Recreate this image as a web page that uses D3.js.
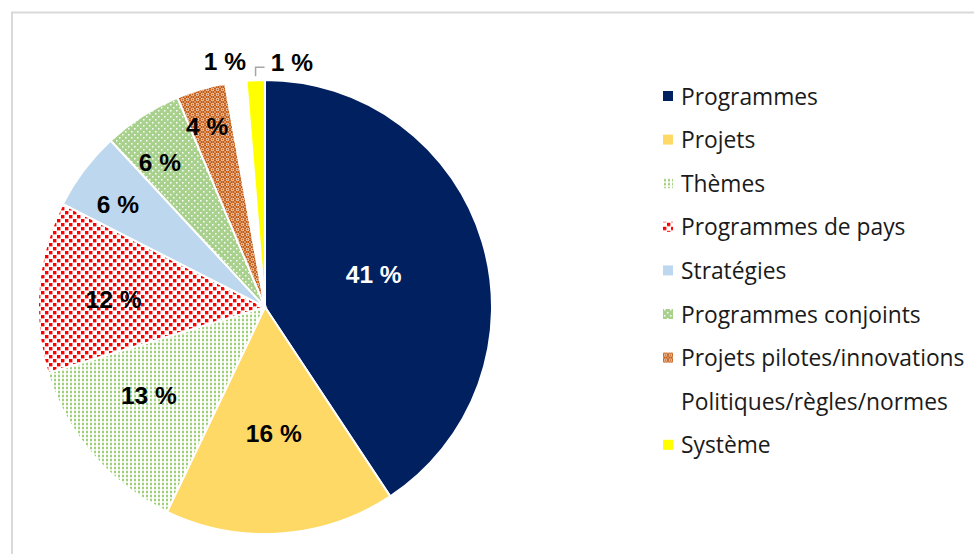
<!DOCTYPE html>
<html>
<head>
<meta charset="utf-8">
<script src="https://cdn.jsdelivr.net/npm/d3@7"></script>
<style>
  body { margin: 0; background: #fff; }
  svg { display: block; }
</style>
</head>
<body>
<script>
'use strict';

// chart data (clockwise from 12 o'clock)
const categories = ["Programmes", "Projets", "Thèmes", "Programmes de pays", "Stratégies",
  "Programmes conjoints", "Projets pilotes/innovations", "Politiques/règles/normes", "Système"];
const shares = [40.7, 16.4, 13.2, 12.2, 5.6, 5.6, 3.5, 1.5, 1.3];
const shareLabels = ["41 %", "16 %", "13 %", "12 %", "6 %", "6 %", "4 %", "1 %", "1 %"];

// styling for each slice (solid colour or pattern id)
const fills = ["#002060", "#FFD966", "url(#pThemes)", "url(#pPays)", "#BDD7EE",
  "url(#pConj)", "url(#pPilot)", "#ffffff", "#FFFF00"];
const labelColors = ["#fff", "#000", "#000", "#000", "#000", "#000", "#000", "#000", "#000"];
// label distance from centre (fraction of radius) and small nudges
const labelRadius = [0.5, 0.56, 0.64, 0.67, 0.79, 0.79, 0.84, 1.1, 1.09];
const labelNudge = [[0, 0], [0, 0], [-6, -6], [0, 6], [-4, 6], [-8, 6], [-4, 2], [-8, 2], [37, 3]];

const width = 974, height = 554;
const cx = 265, cy = 307, R = 227;

const svg = d3.select('body')
  .append('svg')
  .attr('width', width)
  .attr('height', height);

// chart frame
svg.append('rect')
  .attr('x', 12)
  .attr('y', 12.5)
  .attr('width', 1000)
  .attr('height', 600)
  .attr('fill', 'none')
  .attr('stroke', '#d9d9d9')
  .attr('stroke-width', 2);

// patterns
const defs = svg.append('defs');

let p = defs.append('pattern').attr('id', 'pThemes')
  .attr('patternUnits', 'userSpaceOnUse').attr('width', 4).attr('height', 4);
p.append('rect').attr('width', 4).attr('height', 4).attr('fill', '#fff');
p.append('rect').attr('x', 1).attr('y', 0).attr('width', 2).attr('height', 2).attr('fill', '#9fd07a');
p.append('rect').attr('x', 1).attr('y', 2.5).attr('width', 2).attr('height', 1).attr('fill', '#cde8b8');

p = defs.append('pattern').attr('id', 'pPays')
  .attr('patternUnits', 'userSpaceOnUse').attr('width', 8).attr('height', 8);
p.append('rect').attr('width', 8).attr('height', 8).attr('fill', '#fff');
p.append('rect').attr('x', 0).attr('y', 0).attr('width', 3.4).attr('height', 3.4).attr('fill', '#ff0000');
p.append('rect').attr('x', 4).attr('y', 4).attr('width', 3.4).attr('height', 3.4).attr('fill', '#ff0000');

p = defs.append('pattern').attr('id', 'pConj')
  .attr('patternUnits', 'userSpaceOnUse').attr('width', 6).attr('height', 6);
p.append('rect').attr('width', 6).attr('height', 6).attr('fill', '#A9D18E');
p.append('rect').attr('x', 1).attr('y', 1).attr('width', 1.5).attr('height', 1.5).attr('fill', '#fff');
p.append('rect').attr('x', 4).attr('y', 4).attr('width', 1.5).attr('height', 1.5).attr('fill', '#fff');

p = defs.append('pattern').attr('id', 'pPilot')
  .attr('patternUnits', 'userSpaceOnUse').attr('width', 5).attr('height', 5);
p.append('rect').attr('width', 5).attr('height', 5).attr('fill', '#C55A11');
p.append('circle').attr('cx', 2.5).attr('cy', 2.5).attr('r', 1.3)
  .attr('fill', 'none').attr('stroke', '#fff').attr('stroke-width', 0.8);
p.append('circle').attr('cx', 0).attr('cy', 0).attr('r', 0.7).attr('fill', '#fff');
p.append('circle').attr('cx', 5).attr('cy', 5).attr('r', 0.7).attr('fill', '#fff');
p.append('circle').attr('cx', 5).attr('cy', 0).attr('r', 0.7).attr('fill', '#fff');
p.append('circle').attr('cx', 0).attr('cy', 5).attr('r', 0.7).attr('fill', '#fff');

// pie
const pie = d3.pie().sort(null).value(d => d);
const arcs = pie(shares);
const arc = d3.arc().innerRadius(0).outerRadius(R);

const g = svg.append('g').attr('transform', 'translate(' + cx + ',' + cy + ')');

g.selectAll('path')
  .data(arcs)
  .enter()
  .append('path')
  .attr('d', arc)
  .attr('fill', (d, i) => fills[i])
  .attr('stroke', '#fff')
  .attr('stroke-width', 2);

// leader line for the last slice
const last = arcs[arcs.length - 1];
const lastMid = (last.startAngle + last.endAngle) / 2;
const lx = Math.sin(lastMid) * (R + 4), ly = -Math.cos(lastMid) * (R + 4);
g.append('path')
  .attr('d', 'M' + lx + ',' + ly + 'V' + (ly - 9) + 'H' + (lx + 9))
  .attr('fill', 'none')
  .attr('stroke', '#a6a6a6')
  .attr('stroke-width', 1.5);

// data labels
g.selectAll('text.lbl')
  .data(arcs)
  .enter()
  .append('text')
  .attr('class', 'lbl')
  .attr('transform', (d, i) => {
    const a = (d.startAngle + d.endAngle) / 2;
    const r = R * labelRadius[i];
    return 'translate(' + (Math.sin(a) * r + labelNudge[i][0]) + ',' + (-Math.cos(a) * r + labelNudge[i][1]) + ')';
  })
  .attr('text-anchor', 'middle')
  .attr('dominant-baseline', 'central')
  .style('font-family', '"Liberation Sans", Arial, sans-serif')
  .style('font-weight', 'bold')
  .style('font-size', '24.5px')
  .attr('fill', (d, i) => labelColors[i])
  .text((d, i) => shareLabels[i]);

// legend
const legend = svg.append('g').attr('transform', 'translate(663, 96)');
const rowH = 43.6;
const rows = legend.selectAll('g')
  .data(categories)
  .enter()
  .append('g')
  .attr('transform', (d, i) => 'translate(0,' + (i * rowH) + ')');

rows.append('rect')
  .attr('x', 0)
  .attr('y', -5)
  .attr('width', 10)
  .attr('height', 10)
  .attr('fill', (d, i) => fills[i]);

rows.append('text')
  .attr('x', 18)
  .attr('y', 0)
  .attr('dominant-baseline', 'central')
  .style('font-family', '"Open Sans", sans-serif')
  .style('font-size', '22.8px')
  .attr('fill', '#1a1a1a')
  .text(d => d);
</script>
</body>
</html>
